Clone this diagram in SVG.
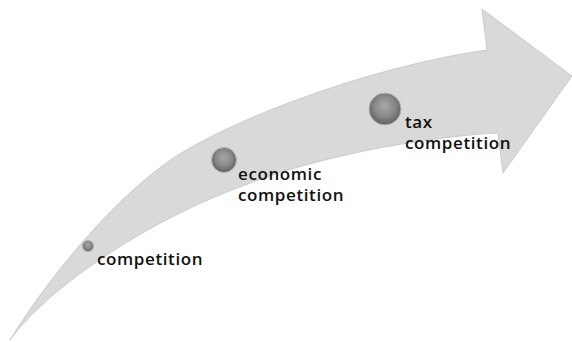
<svg xmlns="http://www.w3.org/2000/svg" width="572" height="342" viewBox="0 0 572 342">
  <defs>
    <radialGradient id="ball" cx="50%" cy="45%" r="55%" fx="48%" fy="38%">
      <stop offset="0" stop-color="#a8a8a8"/>
      <stop offset="0.6" stop-color="#888888"/>
      <stop offset="1" stop-color="#5e5e5e"/>
    </radialGradient>
    <style>
      .arrow { fill: #d9d9d9; stroke: #cbcbcb; stroke-width: 1; }
      .ball { fill: url(#ball); stroke: #b5b5b5; stroke-width: 1; }
      .label { font-family: "Open Sans", "Liberation Sans", sans-serif; font-size: 17px; font-weight: 600; letter-spacing: 0.6px; fill: #111111; }
    </style>
  </defs>
  <rect width="572" height="342" fill="#ffffff"/>
  <g id="connectors">
    <path class="arrow" d="M10,340 C50,275 120,190 183,152 C250,112 380,65 487,50 L482,9 L572,76 L503,173 L498,133 C420,137 310,158 240,187 C150,220 50,285 10,340 Z"/>
  </g>
  <g id="node-competition">
    <circle class="ball" cx="88" cy="246" r="5.5"/>
    <text class="label" x="97" y="265">competition</text>
  </g>
  <g id="node-economic">
    <circle class="ball" cx="224" cy="160" r="12.5"/>
    <text class="label" x="238" y="180">economic</text>
    <text class="label" x="238" y="201">competition</text>
  </g>
  <g id="node-tax">
    <circle class="ball" cx="385" cy="109" r="16"/>
    <text class="label" x="405" y="128">tax</text>
    <text class="label" x="405" y="149">competition</text>
  </g>
</svg>
